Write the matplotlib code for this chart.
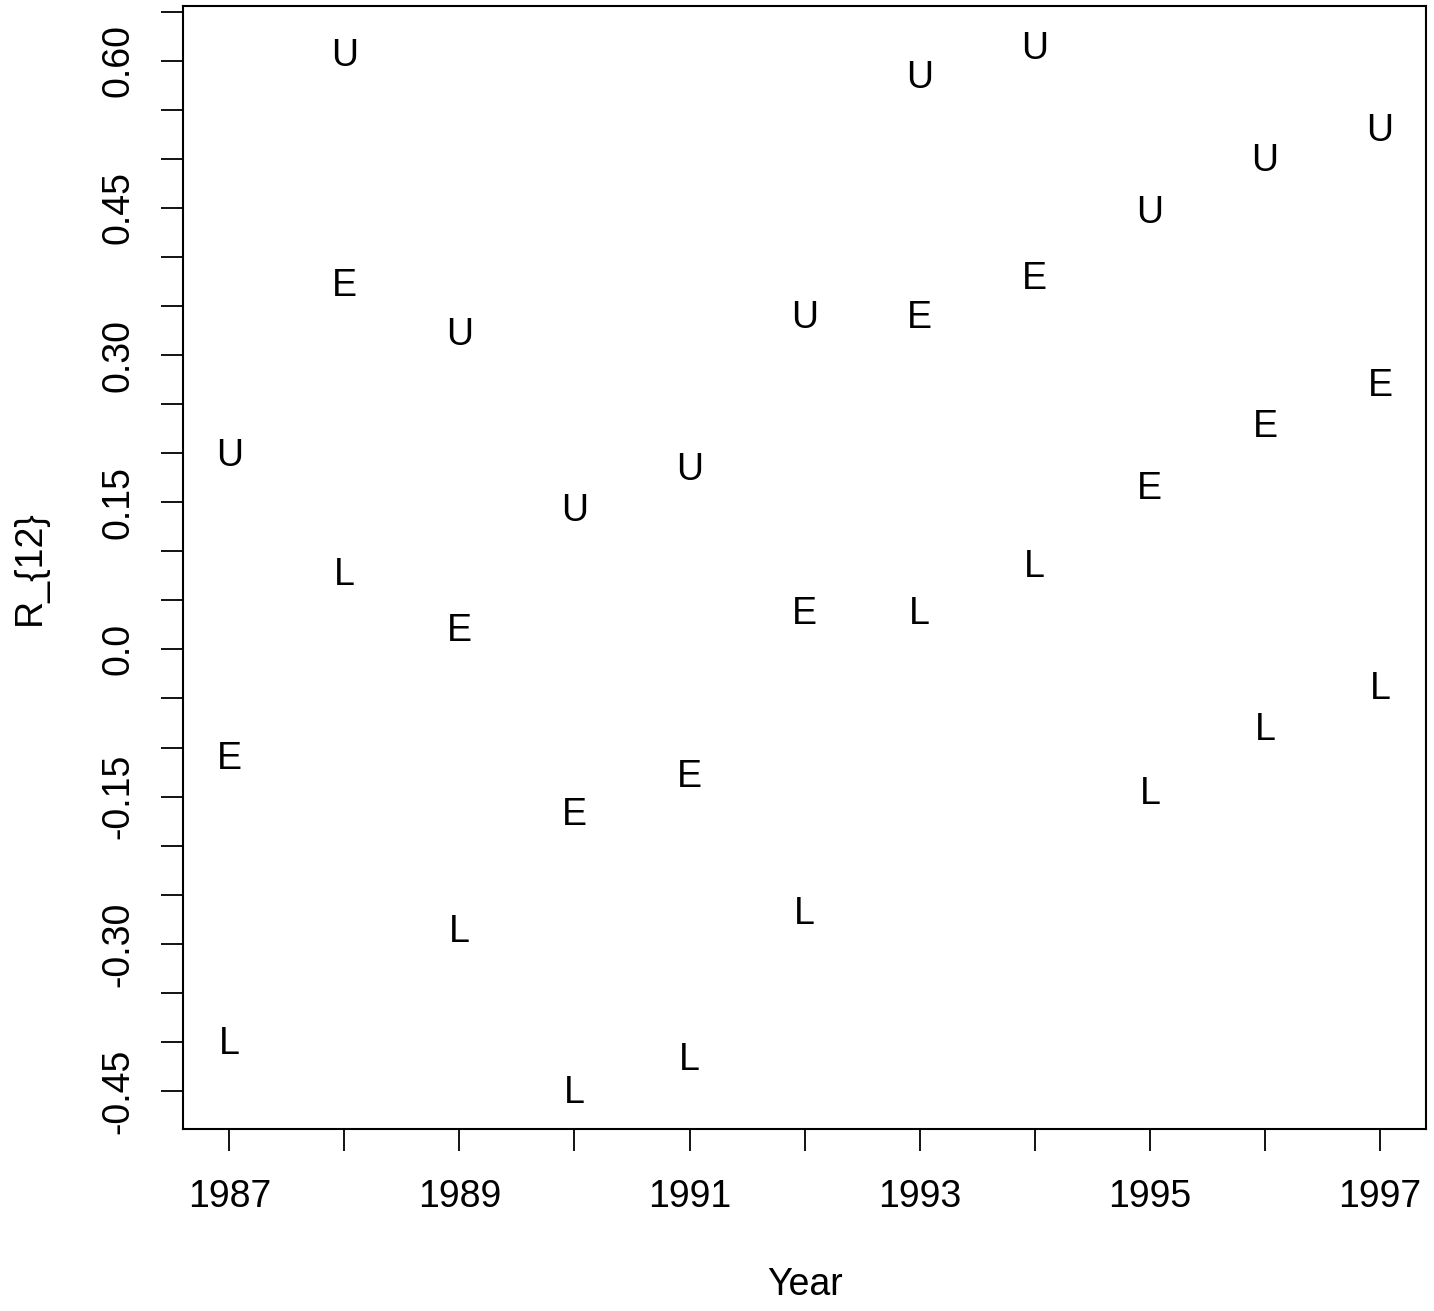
import numpy as np
import matplotlib
matplotlib.use('Agg')
import matplotlib.pyplot as plt
from matplotlib.transforms import offset_copy

plt.rcParams['font.family'] = ['Liberation Sans', 'DejaVu Sans']

years = [1987, 1988, 1989, 1990, 1991, 1992, 1993, 1994, 1995, 1996, 1997]
upper = [0.201, 0.608, 0.324, 0.145, 0.186, 0.341, 0.586, 0.615, 0.448, 0.501, 0.532]
estimate = [-0.108, 0.374, 0.022, -0.165, -0.127, 0.040, 0.341, 0.381, 0.167, 0.230, 0.272]
lower = [-0.399, 0.079, -0.284, -0.449, -0.415, -0.266, 0.040, 0.087, -0.144, -0.079, -0.037]

xtick_labels = ['1987', '', '1989', '', '1991', '', '1993', '', '1995', '', '1997']
ytick_vals = [-0.45, -0.40, -0.35, -0.30, -0.25, -0.20, -0.15, -0.10, -0.05, 0.0,
              0.05, 0.10, 0.15, 0.20, 0.25, 0.30, 0.35, 0.40, 0.45, 0.50, 0.55, 0.60, 0.65]
ytick_labels = ['-0.45', '', '', '-0.30', '', '', '-0.15', '', '', '0.0',
                '', '', '0.15', '', '', '0.30', '', '', '0.45', '', '', '0.60', '']

fs = 27
fig = plt.figure(figsize=(14.34, 13.11), dpi=100)
ax = fig.add_axes([0.1278, 0.1386, 0.9944 - 0.1278, 0.9957 - 0.1386])

# letters are centred on their cap height, like R's text()
tr = offset_copy(ax.transData, fig=fig, y=-0.358 * fs, units='points')
for series, letter in [(upper, 'U'), (estimate, 'E'), (lower, 'L')]:
    for x, y in zip(years, series):
        ax.text(x, y, letter, fontsize=fs, ha='center', va='baseline', transform=tr)

ax.set_xlim(1986.6, 1997.4)
ax.set_ylim(-0.489, 0.656)

ax.set_xticks(years)
ax.set_xticklabels(xtick_labels)
ax.set_yticks(ytick_vals)
ax.set_yticklabels(ytick_labels, rotation=90, va='center')

for s in ax.spines.values():
    s.set_linewidth(1.5)
ax.tick_params(axis='both', length=16, width=1.3, labelsize=fs, colors='black')
ax.tick_params(axis='x', pad=20)
ax.tick_params(axis='y', pad=18)

ax.set_xlabel('Year', fontsize=fs, va='center')
ax.xaxis.set_label_coords(0.5, -0.1386)
ax.set_ylabel('R_{12}', fontsize=fs, va='center')
ax.yaxis.set_label_coords(-0.1234, 0.5)

fig.savefig('out.png', dpi=100)
